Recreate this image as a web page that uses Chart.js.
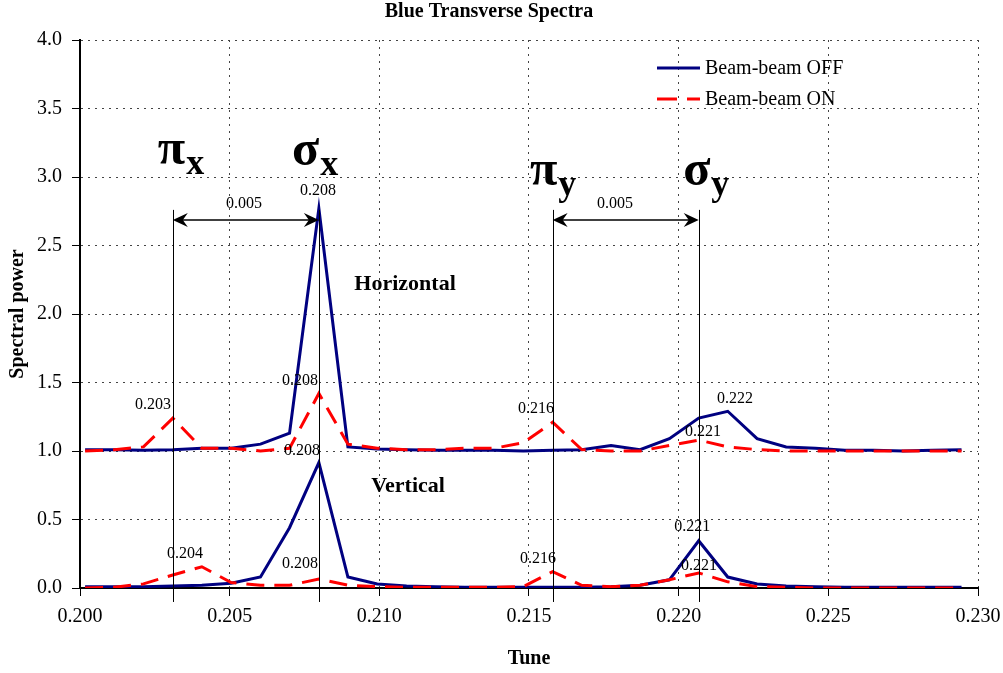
<!DOCTYPE html>
<html>
<head>
<meta charset="utf-8">
<script src="https://cdn.jsdelivr.net/npm/chart.js@4.4.1/dist/chart.umd.min.js"></script>
<style>
  html, body { margin: 0; padding: 0; background: #fff; }
  #wrap { width: 1003px; height: 673px; }
</style>
</head>
<body>
<div id="wrap"><canvas id="specChart" width="1003" height="673"></canvas></div>
<script>
// Tune bins (FFT points)
const tune = [0.20017, 0.20115, 0.20212, 0.20310, 0.20407, 0.20505, 0.20603, 0.20700, 0.20798, 0.20895,
              0.20993, 0.21091, 0.21188, 0.21286, 0.21383, 0.21481, 0.21579, 0.21676, 0.21774, 0.21871,
              0.21969, 0.22067, 0.22164, 0.22262, 0.22359, 0.22457, 0.22555, 0.22652, 0.22750, 0.22847, 0.22945];

// Horizontal (offset by 1.0)
const horizOff = [1.01, 1.01, 1.005, 1.01, 1.02, 1.02, 1.05, 1.13, 2.77, 1.03,
                  1.015, 1.01, 1.005, 1.005, 1.005, 1.0, 1.005, 1.01, 1.04, 1.01,
                  1.09, 1.24, 1.29, 1.09, 1.03, 1.02, 1.005, 1.005, 1.0, 1.005, 1.01];
const horizOn = [1.0, 1.01, 1.03, 1.24, 1.02, 1.02, 1.0, 1.02, 1.42, 1.05,
                 1.02, 1.01, 1.01, 1.02, 1.02, 1.06, 1.21, 1.01, 1.0, 1.0,
                 1.04, 1.08, 1.03, 1.01, 1.0, 1.0, 1.0, 1.0, 1.0, 1.0, 1.0];
// Vertical
const vertOff = [0.01, 0.01, 0.01, 0.015, 0.02, 0.035, 0.08, 0.44, 0.915, 0.08,
                 0.03, 0.015, 0.01, 0.005, 0.005, 0.005, 0.005, 0.005, 0.01, 0.02,
                 0.06, 0.345, 0.08, 0.03, 0.015, 0.01, 0.005, 0.005, 0.005, 0.005, 0.005];
const vertOn = [0.0, 0.005, 0.03, 0.095, 0.155, 0.04, 0.02, 0.02, 0.065, 0.02,
                0.01, 0.005, 0.005, 0.005, 0.005, 0.01, 0.12, 0.02, 0.01, 0.02,
                0.06, 0.11, 0.045, 0.01, 0.005, 0.0, 0.0, 0.0, 0.0, 0.0, 0.0];

const xTicks = [0.200, 0.205, 0.210, 0.215, 0.220, 0.225, 0.230];
const yTicks = [0.0, 0.5, 1.0, 1.5, 2.0, 2.5, 3.0, 3.5, 4.0];

// Peak labels: [text, tune, value]
const peakLabels = [
    ['0.208', 0.20795, 2.898],
    ['0.203', 0.20244, 1.336],
    ['0.208', 0.20735, 1.511],
    ['0.208', 0.20742, 1.0],
    ['0.204', 0.20351, 0.248],
    ['0.208', 0.20735, 0.175],
    ['0.216', 0.21523, 1.307],
    ['0.222', 0.22188, 1.380],
    ['0.221', 0.22081, 1.139],
    ['0.216', 0.21530, 0.212],
    ['0.221', 0.22045, 0.445],
    ['0.221', 0.22068, 0.161]
];
// Tune markers (pi / sigma lines)
const markerTunes = [tune[3], tune[8], tune[16], tune[21]];
const greekLabels = [
    ['\u03C0', 'x', 0.20260, 3.095],
    ['\u03C3', 'x', 0.20708, 3.088],
    ['\u03C0', 'y', 0.21503, 2.942],
    ['\u03C3', 'y', 0.22015, 2.942]
];
const spacingArrows = [[tune[3], tune[8], 0.20548], [tune[16], tune[21], 0.21787]];
const planeLabels = [['Horizontal', 0.21086, 2.219], ['Vertical', 0.21096, 0.745]];

const SERIF = "'Liberation Serif', 'Times New Roman', serif";
const BLUE = '#000080';
const RED = '#FF0000';

function xy(values) {
    return tune.map(function(t, i) { return { x: t, y: values[i] }; });
}

function arrowHead(ctx, x, y, dir) {
    ctx.beginPath();
    ctx.moveTo(x, y);
    ctx.lineTo(x - dir * 15, y - 7);
    ctx.lineTo(x - dir * 10, y);
    ctx.lineTo(x - dir * 15, y + 7);
    ctx.closePath();
    ctx.fill();
}

const annotationPlugin = {
    id: 'annotations',
    afterDatasetsDraw: function(chart) {
        const ctx = chart.ctx;
        const xs = chart.scales.x;
        const ys = chart.scales.y;
        ctx.save();

        // marker lines
        ctx.strokeStyle = '#000';
        ctx.lineWidth = 1;
        markerTunes.forEach(function(t) {
            const px = Math.round(xs.getPixelForValue(t)) + 0.5;
            ctx.beginPath();
            ctx.moveTo(px, ys.getPixelForValue(2.76));
            ctx.lineTo(px, ys.getPixelForValue(-0.102));
            ctx.stroke();
        });

        // spacing arrows
        ctx.fillStyle = '#000';
        ctx.lineWidth = 1.5;
        spacingArrows.forEach(function(a) {
            const x1 = xs.getPixelForValue(a[0]);
            const x2 = xs.getPixelForValue(a[1]);
            const py = ys.getPixelForValue(2.686);
            ctx.beginPath();
            ctx.moveTo(x1 + 4, py);
            ctx.lineTo(x2 - 4, py);
            ctx.stroke();
            arrowHead(ctx, x1, py, -1);
            arrowHead(ctx, x2, py, 1);
            ctx.font = '16px ' + SERIF;
            ctx.textAlign = 'center';
            ctx.textBaseline = 'middle';
            ctx.fillText('0.005', xs.getPixelForValue(a[2]), ys.getPixelForValue(2.803));
        });

        // peak labels
        ctx.font = '16px ' + SERIF;
        ctx.textAlign = 'center';
        ctx.textBaseline = 'middle';
        ctx.fillStyle = '#000';
        peakLabels.forEach(function(p) {
            ctx.fillText(p[0], xs.getPixelForValue(p[1]), ys.getPixelForValue(p[2]));
        });

        // plane labels
        ctx.font = 'bold 22px ' + SERIF;
        planeLabels.forEach(function(p) {
            ctx.fillText(p[0], xs.getPixelForValue(p[1]), ys.getPixelForValue(p[2]));
        });

        // greek tune symbols
        ctx.textAlign = 'left';
        ctx.textBaseline = 'alphabetic';
        greekLabels.forEach(function(g) {
            const gx = xs.getPixelForValue(g[2]);
            const gy = ys.getPixelForValue(g[3]);
            ctx.font = 'bold 50px ' + SERIF;
            ctx.fillText(g[0], gx, gy);
            const w = ctx.measureText(g[0]).width;
            ctx.font = 'bold 36px ' + SERIF;
            ctx.fillText(g[1], gx + w + 1, gy + 10);
        });

        // legend
        const legendItems = [['Beam-beam OFF', BLUE, []], ['Beam-beam ON', RED, [20, 10]]];
        ctx.font = '20px ' + SERIF;
        ctx.textBaseline = 'middle';
        legendItems.forEach(function(item, i) {
            const ly = 68 + i * 31;
            ctx.strokeStyle = item[1];
            ctx.lineWidth = 3;
            ctx.setLineDash(item[2]);
            ctx.beginPath();
            ctx.moveTo(657, ly);
            ctx.lineTo(700, ly);
            ctx.stroke();
            ctx.setLineDash([]);
            ctx.fillStyle = '#000';
            ctx.fillText(item[0], 705, ly + 1);
        });

        ctx.restore();
    }
};

const ctx = document.getElementById('specChart').getContext('2d');
const specChart = new Chart(ctx, {
    type: 'line',
    data: {
        datasets: [
            {
                label: 'Beam-beam OFF',
                data: xy(horizOff),
                borderColor: BLUE,
                borderWidth: 3,
                pointRadius: 0,
                tension: 0,
                order: 2
            },
            {
                label: 'Beam-beam ON',
                data: xy(horizOn),
                borderColor: RED,
                borderWidth: 3,
                borderDash: [18, 10],
                pointRadius: 0,
                tension: 0,
                order: 1
            },
            {
                label: 'Beam-beam OFF (V)',
                data: xy(vertOff),
                borderColor: BLUE,
                borderWidth: 3,
                pointRadius: 0,
                tension: 0,
                order: 2
            },
            {
                label: 'Beam-beam ON (V)',
                data: xy(vertOn),
                borderColor: RED,
                borderWidth: 3,
                borderDash: [18, 10],
                pointRadius: 0,
                tension: 0,
                order: 1
            }
        ]
    },
    options: {
        responsive: false,
        animation: false,
        layout: { padding: { left: 0, right: 25, top: 0, bottom: 0 } },
        plugins: {
            legend: { display: false },
            tooltip: { enabled: false },
            title: {
                display: true,
                text: 'Blue Transverse Spectra',
                color: '#000',
                font: { family: SERIF, size: 20, weight: 'bold' },
                padding: { top: 0, bottom: 16 }
            }
        },
        scales: {
            x: {
                type: 'linear',
                min: xTicks[0],
                max: xTicks[xTicks.length - 1],
                afterBuildTicks: function(scale) {
                    scale.ticks = xTicks.map(function(v) { return { value: v }; });
                },
                afterFit: function(scale) {
                    scale.height = 85;
                    scale.paddingLeft = 0;
                    scale.paddingRight = 0;
                },
                ticks: {
                    color: '#000',
                    font: { family: SERIF, size: 20 },
                    padding: 9,
                    maxRotation: 0,
                    callback: function(value) { return value.toFixed(3); }
                },
                grid: {
                    color: '#444',
                    lineWidth: 1,
                    tickLength: 8,
                    tickColor: '#000',
                    tickWidth: 1
                },
                border: { display: true, color: '#000', width: 2, dash: [2, 5] },
                title: {
                    display: true,
                    text: 'Tune',
                    color: '#000',
                    font: { family: SERIF, size: 20, weight: 'bold' },
                    padding: { top: 0, bottom: 2 }
                }
            },
            y: {
                min: yTicks[0],
                max: yTicks[yTicks.length - 1],
                afterBuildTicks: function(scale) {
                    scale.ticks = yTicks.map(function(v) { return { value: v }; });
                },
                afterFit: function(scale) { scale.width = 80; },
                ticks: {
                    color: '#000',
                    font: { family: SERIF, size: 20 },
                    padding: 10,
                    callback: function(value) { return value.toFixed(1); }
                },
                grid: {
                    color: '#444',
                    lineWidth: 1,
                    tickLength: 8,
                    tickColor: '#000',
                    tickWidth: 1
                },
                border: { display: true, color: '#000', width: 2, dash: [2, 5] },
                title: {
                    display: true,
                    text: 'Spectral power',
                    color: '#000',
                    font: { family: SERIF, size: 20, weight: 'bold' },
                    padding: { top: 6, bottom: 0 }
                }
            }
        }
    },
    plugins: [annotationPlugin]
});
</script>
</body>
</html>
